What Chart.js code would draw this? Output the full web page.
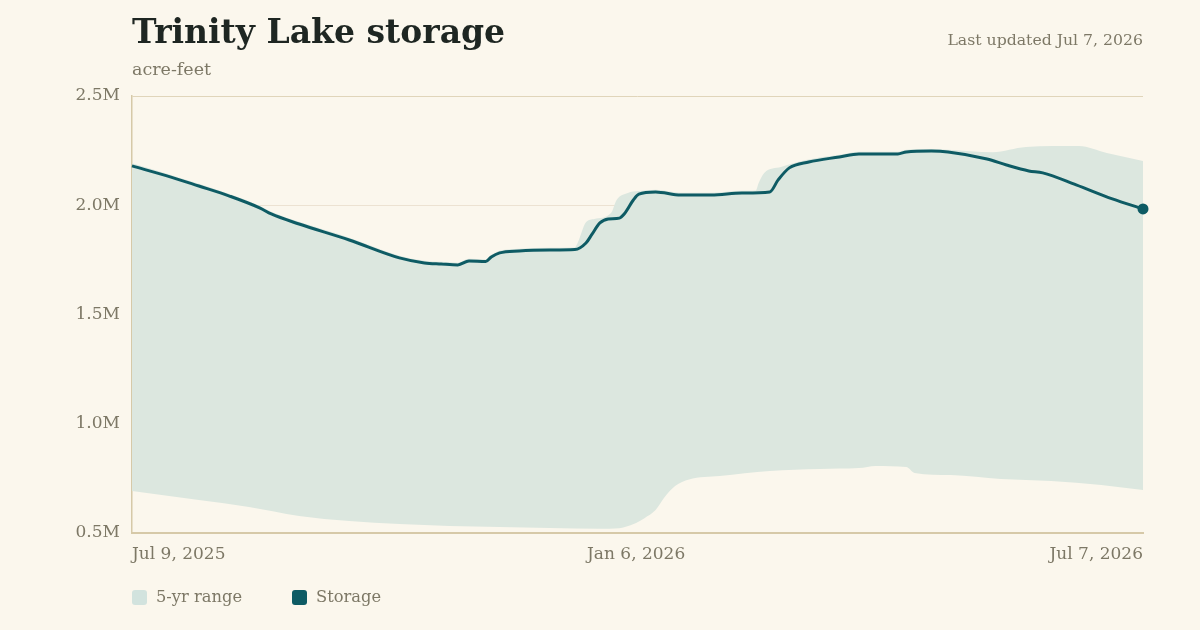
<!DOCTYPE html>
<html>
<head>
<meta charset="utf-8">
<script src="https://cdn.jsdelivr.net/npm/chart.js@4.4.1/dist/chart.umd.min.js"></script>
<style>
  body { margin: 0; background: #FBF7ED; }
  #wrap { position: relative; width: 1200px; height: 630px; overflow: hidden; font-family: 'DejaVu Serif', Georgia, serif; }
  #chart { position: absolute; left: 0; top: 0; }
  .title { position: absolute; left: 132px; top: 14px; font-size: 33px; font-weight: bold; color: #1E2622; line-height: 36px; white-space: nowrap; }
  .sub { position: absolute; left: 132px; top: 58px; font-size: 17.5px; color: #7D7866; line-height: 22px; }
  .updated { position: absolute; right: 57px; top: 30px; font-size: 15.7px; color: #7D7866; line-height: 20px; }
  .legend { position: absolute; left: 132px; top: 586px; font-size: 16.3px; color: #7D7866; line-height: 22px; display: flex; }
  .legend span { display: flex; align-items: center; margin-right: 50px; }
  .legend i { display: inline-block; width: 15px; height: 15px; border-radius: 3px; margin-right: 9px; }
</style>
</head>
<body>
<div id="wrap">
  <canvas id="chart" width="1200" height="630"></canvas>
  <div class="title">Trinity Lake storage</div>
  <div class="sub">acre-feet</div>
  <div class="updated">Last updated Jul 7, 2026</div>
  <div class="legend">
    <span><i style="background:#D2E3DE"></i>5-yr range</span>
    <span><i style="background:#0E5B64"></i>Storage</span>
  </div>
</div>
<script>
// days since Jul 9, 2025 ; values in millions of acre-feet
const storageDays = [0, 14, 24, 35, 46, 50, 60, 78, 96, 105, 111, 117, 121, 127, 129, 132, 139, 150, 159, 163, 165, 168, 171, 175, 177, 180, 182, 188, 197, 208, 219, 229, 232, 236, 243, 254, 261, 275, 278, 287, 293, 307, 314, 322, 327, 339, 352, 363];
const storage = [2.180, 2.129, 2.088, 2.042, 1.987, 1.960, 1.914, 1.841, 1.759, 1.736, 1.731, 1.727, 1.745, 1.742, 1.763, 1.782, 1.791, 1.795, 1.797, 1.827, 1.864, 1.919, 1.937, 1.941, 1.964, 2.024, 2.051, 2.061, 2.047, 2.047, 2.056, 2.061, 2.116, 2.171, 2.198, 2.221, 2.235, 2.235, 2.244, 2.248, 2.244, 2.212, 2.184, 2.157, 2.148, 2.093, 2.029, 1.983];

const highDays = [0, 14, 24, 35, 46, 50, 60, 78, 96, 105, 111, 117, 121, 127, 129, 132, 139, 150, 159, 160, 163, 166, 172, 174, 178, 182, 188, 197, 208, 219, 224, 225, 227, 233, 242, 254, 261, 275, 278, 287, 293, 309, 321, 340, 350, 363];
const high = [2.192, 2.139, 2.098, 2.052, 1.997, 1.970, 1.924, 1.851, 1.769, 1.746, 1.741, 1.737, 1.755, 1.752, 1.773, 1.792, 1.801, 1.805, 1.807, 1.827, 1.922, 1.937, 1.964, 2.024, 2.056, 2.065, 2.071, 2.057, 2.057, 2.066, 2.068, 2.102, 2.148, 2.175, 2.207, 2.231, 2.245, 2.245, 2.254, 2.258, 2.254, 2.243, 2.267, 2.271, 2.239, 2.203];

const lowDays = [0, 24, 42, 60, 78, 96, 114, 132, 150, 168, 175, 177, 181, 184, 188, 191, 195, 200, 211, 229, 247, 261, 267, 278, 281, 294, 312, 330, 348, 363];
const low = [0.692, 0.651, 0.619, 0.578, 0.555, 0.541, 0.532, 0.527, 0.523, 0.520, 0.522, 0.527, 0.546, 0.568, 0.605, 0.660, 0.715, 0.745, 0.761, 0.784, 0.793, 0.797, 0.807, 0.802, 0.775, 0.765, 0.747, 0.738, 0.720, 0.697];

const xTicks = [0, 181, 363];
const xTickLabels = ['Jul 9, 2025', 'Jan 6, 2026', 'Jul 7, 2026'];
const yTicks = [0.5, 1.0, 1.5, 2.0, 2.5];

const pts = (days, vals) => days.map((d, i) => ({ x: d, y: vals[i] }));
const tickFont = { family: "'DejaVu Serif', Georgia, serif", size: 17 };

new Chart(document.getElementById('chart'), {
  type: 'line',
  data: {
    datasets: [
      {
        label: 'Storage',
        data: pts(storageDays, storage),
        borderColor: '#0E5B64',
        backgroundColor: '#0E5B64',
        borderWidth: 3,
        cubicInterpolationMode: 'monotone',
        pointRadius: ctx => ctx.dataIndex === storage.length - 1 ? 5.5 : 0,
        pointBorderWidth: 0,
        fill: false,
        clip: 12,
        order: 0
      },
      {
        label: 'low',
        data: pts(lowDays, low),
        borderWidth: 0,
        borderColor: 'rgba(0,0,0,0)',
        pointRadius: 0,
        cubicInterpolationMode: 'monotone',
        fill: false,
        order: 2
      },
      {
        label: '5-yr range',
        data: pts(highDays, high),
        borderWidth: 0,
        borderColor: 'rgba(0,0,0,0)',
        backgroundColor: '#DCE7DF',
        pointRadius: 0,
        cubicInterpolationMode: 'monotone',
        fill: '-1',
        order: 1
      }
    ]
  },
  options: {
    responsive: false,
    devicePixelRatio: 1,
    animation: false,
    layout: { padding: { top: 96, right: 57, left: 0, bottom: 0 } },
    plugins: { legend: { display: false }, tooltip: { enabled: false } },
    scales: {
      x: {
        type: 'linear',
        min: 0,
        max: 363,
        afterFit: s => { s.height = 97; },
        afterBuildTicks: s => { s.ticks = xTicks.map(v => ({ value: v })); },
        ticks: {
          align: 'inner',
          maxRotation: 0,
          padding: 11,
          color: '#7D7866',
          font: tickFont,
          callback: v => xTickLabels[xTicks.indexOf(v)]
        },
        grid: { display: false, drawTicks: false },
        border: { color: '#D6C9A8', width: 2 }
      },
      y: {
        min: 0.5,
        max: 2.5,
        afterFit: s => { s.width = 132; },
        afterBuildTicks: s => { s.ticks = yTicks.map(v => ({ value: v })); },
        ticks: {
          padding: 12,
          color: '#7D7866',
          font: tickFont,
          callback: v => v.toFixed(1) + 'M'
        },
        grid: {
          drawTicks: false,
          color: ctx => ctx.tick && ctx.tick.value === 2.5 ? '#E0D5BA' : '#ECE2D2',
          lineWidth: 1
        },
        border: { color: '#D6C9A8', width: 1.5 }
      }
    }
  }
});
</script>
</body>
</html>
